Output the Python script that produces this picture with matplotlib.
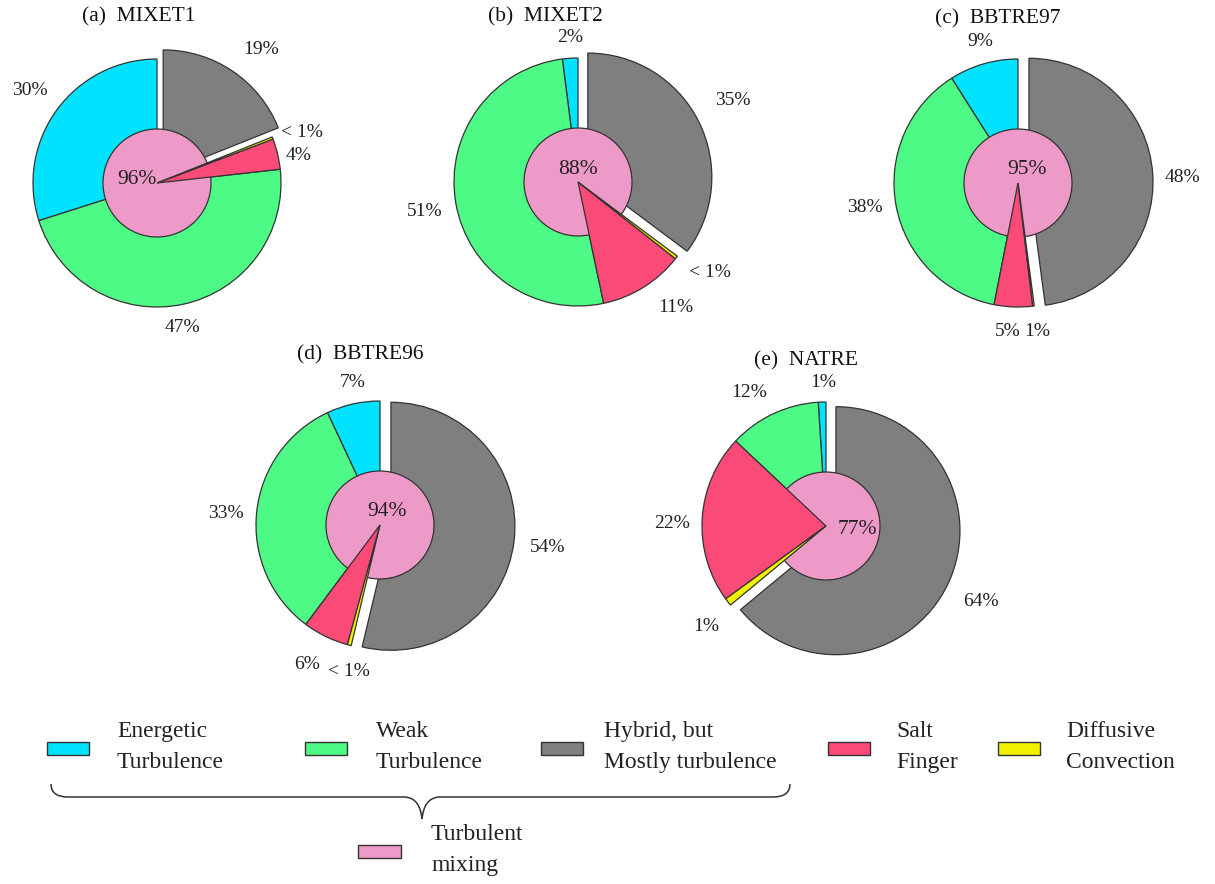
import numpy as np
import matplotlib.pyplot as plt
from matplotlib.patches import Circle, Rectangle, PathPatch
from matplotlib.path import Path

W, H = 1215, 884

# data (percent of each class per experiment)
titles = ["(a)  MIXET1", "(b)  MIXET2", "(c)  BBTRE97", "(d)  BBTRE96", "(e)  NATRE"]
energetic = [30, 2, 9, 7, 1]
weak = [47, 51, 38, 33, 12]
salt_finger = [4, 11, 5, 6, 22]
diffusive = [0.3, 0.4, 0.2, 0.5, 1]
hybrid = [19, 35, 48, 54, 64]
turbulent = [96, 88, 95, 94, 77]
pct_labels = [
    ["30%", "47%", "4%", "< 1%", "19%"],
    ["2%", "51%", "11%", "< 1%", "35%"],
    ["9%", "38%", "5%", "1%", "48%"],
    ["7%", "33%", "6%", "< 1%", "54%"],
    ["1%", "12%", "22%", "1%", "64%"],
]
legend_names = ["Energetic\nTurbulence", "Weak\nTurbulence", "Hybrid, but\nMostly turbulence",
                "Salt\nFinger", "Diffusive\nConvection"]

colors = ["#00E3FF", "#4EFA86", "#7F7F7F", "#FA4A78", "#F2F200"]
pink = "#EE9AC8"
edge = "#333333"
serif = "Liberation Serif"

# layout (pixel coords, y from top)
centers = [(157, 183), (578, 182), (1018, 183), (380, 525), (826, 526)]
R = 124
title_pos = [(139, 17), (545, 17), (998, 19), (360, 355), (806, 361)]
center_txt = [(-20, -3), (0, -12), (9, -13), (7, -13), (31, 4)]
# label placement: (angle deg, radius factor), order energetic, weak, salt, diffusive, hybrid
label_pos = [
    [(144, 1.27), (-80, 1.18), (11, 1.16), (19, 1.24), (52, 1.37)],
    [(93, 1.17), (191, 1.26), (-52, 1.28), (-34.6, 1.29), (27.9, 1.41)],
    [(105, 1.18), (189, 1.25), (-94, 1.2), (-82.7, 1.21), (2, 1.33)],
    [(101, 1.17), (175.6, 1.25), (-117.5, 1.27), (-102, 1.21), (-7.5, 1.36)],
    [(91, 1.16), (120, 1.24), (179, 1.24), (220, 1.26), (-26, 1.39)],
]

fig = plt.figure(figsize=(W / 100, H / 100), dpi=100)
ax = fig.add_axes([0, 0, 1, 1])

for i in range(5):
    cx, cy = centers[i]
    cy = H - cy
    vals = [energetic[i], weak[i], salt_finger[i], diffusive[i], hybrid[i]]
    pie_cols = [colors[0], colors[1], colors[3], colors[4], colors[2]]
    wedges, _ = ax.pie(vals, colors=pie_cols, startangle=90, counterclock=True,
                       radius=R, center=(cx, cy), explode=[0, 0, 0, 0, 11],
                       frame=True, wedgeprops=dict(edgecolor=edge, linewidth=0.9))
    for k, w in enumerate(wedges):
        w.set_zorder(3 if k in (2, 3) else 1)
    ax.add_patch(Circle((cx, cy), 54, facecolor=pink, edgecolor=edge, lw=0.9, zorder=2))
    dx, dy = center_txt[i]
    ax.text(cx + dx, cy - dy, f"{turbulent[i]}%", ha="center", va="center",
            fontsize=15.5, family=serif, color="#222222", zorder=5)
    for lab, (ang, f) in zip(pct_labels[i], label_pos[i]):
        a = np.deg2rad(ang)
        ax.text(cx + f * R * np.cos(a), cy + f * R * np.sin(a), lab, ha="center", va="center",
                fontsize=14, family=serif, color="#222222")
    tx, ty = title_pos[i]
    ax.text(tx, H - ty, titles[i], ha="center", va="center", fontsize=15.5,
            family=serif, color="#111111")

# legend
box_x = [47, 305, 541, 828, 998]
text_x = [117, 376, 604, 896, 1066]
for bx, txx, col, name in zip(box_x, text_x, colors, legend_names):
    ax.add_patch(Rectangle((bx, H - 755), 42, 13, facecolor=col, edgecolor=edge, lw=1))
    ax.text(txx, H - 747, name, ha="left", va="center", fontsize=17, family=serif,
            color="#222222", linespacing=1.6)

ax.add_patch(Rectangle((358, H - 858), 43, 13, facecolor=pink, edgecolor=edge, lw=1))
ax.text(431, H - 850, "Turbulent\nmixing", ha="left", va="center", fontsize=17,
        family=serif, color="#222222", linespacing=1.6)

# brace under the three turbulence classes
pts = [(51, 784), (51, 797), (68, 797), (405, 797), (420, 798), (422, 819),
       (424, 798), (439, 797), (773, 797), (790, 797), (790, 784)]
codes = [Path.MOVETO, Path.CURVE3, Path.CURVE3, Path.LINETO, Path.CURVE3, Path.CURVE3,
         Path.CURVE3, Path.CURVE3, Path.LINETO, Path.CURVE3, Path.CURVE3]
brace = Path([(x, H - y) for x, y in pts], codes)
ax.add_patch(PathPatch(brace, facecolor="none", edgecolor="#333333", lw=1.1))

ax.set_xlim(0, W)
ax.set_ylim(0, H)
ax.set_aspect("auto")
ax.axis("off")

fig.savefig("out.png", dpi=100)
